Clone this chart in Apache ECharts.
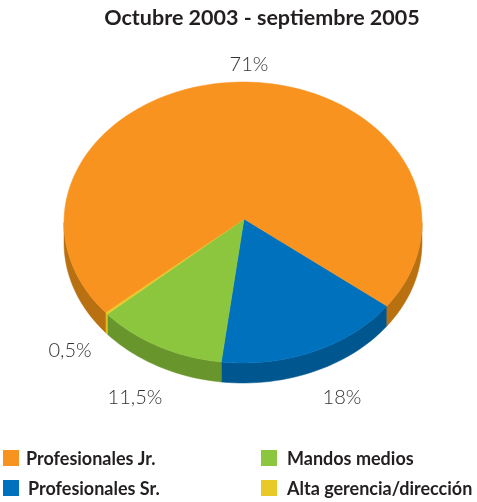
<!DOCTYPE html>
<html>
<head>
<meta charset="utf-8">
<title>Octubre 2003 - septiembre 2005</title>
<style>
	html, body { margin: 0; padding: 0; background: #fff; }
	#main { width: 477px; height: 502px; }
</style>
</head>
<body>
<div id="main"></div>
<script src="https://cdn.jsdelivr.net/npm/echarts@6/dist/echarts.min.js"></script>
<script>
	var titleText = 'Octubre 2003 - septiembre 2005';
	var categories = ['Profesionales Sr.', 'Mandos medios', 'Alta gerencia/dirección', 'Profesionales Jr.'];
	// wedge widths as drawn in the picture (the printed labels add up to 101)
	var sliceValues = [16.8, 11.75, 0.25, 71.2];
	var sliceLabels = ['18%', '11,5%', '0,5%', '71%'];
	var topColors = ['#0071bc', '#8cc63f', '#e9c926', '#f7931e'];
	var wallColors = ['#00568f', '#68962c', '#e0bd1e', '#b87011'];

	var labelPos = [[342, 398], [135, 398], [70, 351], [249, 65]];
	var legendPos = [[3, 480, 28], [261, 450, 287], [261, 480, 287], [3, 450, 26]];

	var pie = { cx: 243, cy: 222.5, rx: 179, ry: 140.5, apexX: 244, apexY: 219, depth: 20, start: 36.5 };

	function arcPoints(a0, a1, dy) {
		var pts = [];
		var n = Math.max(2, Math.ceil((a1 - a0) / 2));
		for (var i = 0; i <= n; i++) {
			var a = (a0 + (a1 - a0) * i / n) * Math.PI / 180;
			pts.push([pie.cx + pie.rx * Math.cos(a), pie.cy + pie.ry * Math.sin(a) + dy]);
		}
		return pts;
	}

	function wallShape(a0, a1, color) {
		var pts = arcPoints(a0, a1, 0).concat(arcPoints(a0, a1, pie.depth).reverse());
		return { type: 'polygon', shape: { points: pts }, style: { fill: color, stroke: color, lineWidth: 0.5 } };
	}

	function renderSlice(params, api) {
		var i = params.dataIndex;
		var before = 0;
		for (var k = 0; k < i; k++) {
			before += sliceValues[k];
		}
		var a0 = pie.start + before * 3.6;
		var a1 = a0 + api.value(0) * 3.6;
		var children = [];
		// only the near half of the rim shows a wall
		[[0, 180], [360, 540]].forEach(function (range) {
			var from = Math.max(a0, range[0]);
			var to = Math.min(a1, range[1]);
			if (to > from) {
				children.push(wallShape(from, to, wallColors[i]));
			}
		});
		children.push({
			type: 'polygon',
			shape: { points: [[pie.apexX, pie.apexY]].concat(arcPoints(a0, a1, 0)) },
			style: { fill: topColors[i], stroke: topColors[i], lineWidth: 0.5 }
		});
		return { type: 'group', children: children };
	}

	var graphics = [];
	sliceLabels.forEach(function (text, i) {
		graphics.push({
			type: 'text',
			x: labelPos[i][0],
			y: labelPos[i][1],
			style: {
				text: text,
				fill: '#333333',
				font: '300 20px Lato',
				align: 'center',
				verticalAlign: 'middle'
			}
		});
	});
	categories.forEach(function (name, i) {
		graphics.push({
			type: 'rect',
			shape: { x: legendPos[i][0], y: legendPos[i][1], width: 16, height: 16 },
			style: { fill: topColors[i] }
		});
		graphics.push({
			type: 'text',
			x: legendPos[i][2],
			y: legendPos[i][1] + 9,
			style: {
				text: name,
				fill: '#231f20',
				font: 'bold 18px Lato',
				align: 'left',
				verticalAlign: 'middle'
			}
		});
	});

	var chart = echarts.init(document.getElementById('main'));
	chart.setOption({
		animation: false,
		title: {
			text: titleText,
			left: 257,
			top: 2,
			textAlign: 'center',
			textStyle: { fontFamily: 'Lato', fontWeight: 'bold', fontSize: 21.5, color: '#231f20' }
		},
		graphic: graphics,
		series: [{
			type: 'custom',
			coordinateSystem: 'none',
			renderItem: renderSlice,
			data: sliceValues.map(function (v) { return [v]; })
		}]
	});
</script>
</body>
</html>
